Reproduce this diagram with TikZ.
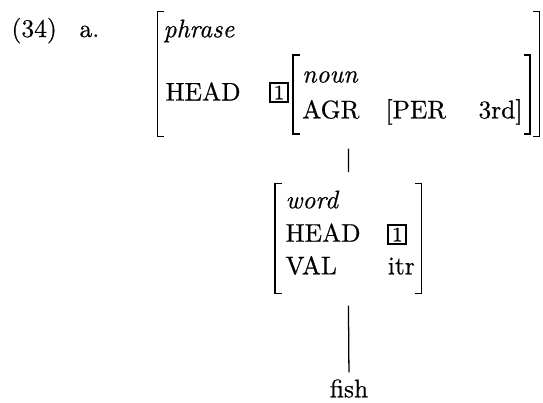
\documentclass[tikz,border=0pt]{standalone}
\usepackage{fontspec}
\setmainfont{Latin Modern Roman}[FakeBold=0.5,ItalicFeatures={FakeBold=0.5}]
\usetikzlibrary{fit}
\begin{document}
\begin{tikzpicture}[x=0.392157pt,y=-0.392157pt,
  txt/.style={anchor=base west,inner sep=0pt,font=\fontsize{10}{12}\selectfont},
  brak/.style={line width=0.6pt},
  tag/.style={draw,line width=0.8pt,inner sep=0pt,minimum width=7pt,minimum height=7.6pt,font=\footnotesize},
  avm/.style={inner sep=0pt},
  branch/.style={line width=0.5pt}]
\useasboundingbox (0,0) rectangle (543,402);
% example label
\node[txt] (ex) at (11,37) {(34)};
\node[txt] (lab) at (79,37) {a.};
% ---- top AVM ----
\coordinate (t1) at (157.7,11.7);
\coordinate (t2) at (539.3,136.7);
\draw[brak] (164.2,11.7) -- (157.7,11.7) -- (157.7,136.7) -- (164.2,136.7);
\draw[brak] (532.8,11.7) -- (539.3,11.7) -- (539.3,136.7) -- (532.8,136.7);
\node[txt] (phr) at (163,37.3) {\itshape phrase};
\node[txt] (head1) at (165,100.5) {HEAD};
\node[tag] (tag1) at (279,92.5) {1};
\draw[brak] (299.5,55) -- (293,55) -- (293,134) -- (299.5,134);
\draw[brak] (523.5,55) -- (530,55) -- (530,134) -- (523.5,134);
\node[txt] (noun) at (301.7,82.5) {\itshape noun};
\node[txt] (agr) at (301.7,118.3) {AGR};
\node[txt] (per) at (385,118.3) {[PER};
\node[txt] (third) at (478,118.3) {3rd]};
\node[avm,fit=(t1)(t2)] (avm1) {};
% ---- word AVM ----
\coordinate (w1) at (275,183.3);
\coordinate (w2) at (421.7,293.3);
\draw[brak] (281.5,183.3) -- (275,183.3) -- (275,293.3) -- (281.5,293.3);
\draw[brak] (415.2,183.3) -- (421.7,183.3) -- (421.7,293.3) -- (415.2,293.3);
\node[txt] (word) at (285,208.3) {\itshape word};
\node[txt] (head2) at (285,241.7) {HEAD};
\node[tag] (tag2) at (397.3,234.5) {1};
\node[txt] (val) at (285,274.3) {VAL};
\node[txt] (itr) at (387.3,274.3) {itr};
\node[avm,fit=(w1)(w2)] (avm2) {};
% ---- leaf ----
\node[txt,anchor=base] (fish) at (349,397.3) {fish};
% ---- branches ----
\draw[branch,shorten <=4.5pt,shorten >=4.2pt] (avm1.south) -- (avm2.north);
\draw[branch,shorten <=4.6pt,shorten >=2.5pt] (avm2.south) -- (fish.north);
\end{tikzpicture}
\end{document}
